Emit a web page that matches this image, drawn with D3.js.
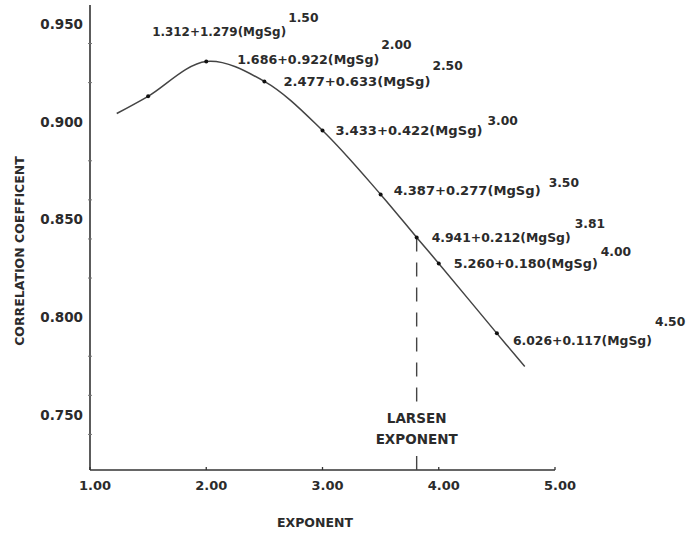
<!DOCTYPE html>
<html>
<head>
<meta charset="utf-8">
<script src="https://cdn.jsdelivr.net/npm/d3@7"></script>
<style>
  html, body { margin: 0; padding: 0; background: #fff; }
  svg { display: block; }
  text { font-family: "DejaVu Sans", sans-serif; font-weight: bold; fill: #2b2b2b; }
</style>
</head>
<body>
<svg id="chart" width="693" height="533"></svg>
<script>
// ---- data ----
const exponents   = [1.50, 2.00, 2.50, 3.00, 3.50, 3.81, 4.00, 4.50];
const correlation = [0.913, 0.9308, 0.9206, 0.8955, 0.8628, 0.8408, 0.8275, 0.7917];
const intercepts  = ["1.312", "1.686", "2.477", "3.433", "4.387", "4.941", "5.260", "6.026"];
const slopes      = ["1.279", "0.922", "0.633", "0.422", "0.277", "0.212", "0.180", "0.117"];
const expLabels   = ["1.50", "2.00", "2.50", "3.00", "3.50", "3.81", "4.00", "4.50"];
// fitted curve extends slightly beyond the measured points
const curveStart  = [1.23, 0.9042];
const curveEnd    = [4.74, 0.7748];
const larsenExp   = 3.81;
const xTicks      = [1, 2, 3, 4, 5];
const xTickLabels = ["1.00", "2.00", "3.00", "4.00", "5.00"];
const yTicks      = [0.75, 0.80, 0.85, 0.90, 0.95];
const yTickLabels = ["0.750", "0.800", "0.850", "0.900", "0.950"];
const yMinorTicks = [0.74, 0.76, 0.78, 0.82, 0.84, 0.86, 0.88, 0.92, 0.94];

// ---- layout: per label [text dx, text dy, text width, superscript dx, superscript dy] from its point ----
const labelLayout = [
  [4, -65, 134, 140, -79], [31, -2, 142, 175, -17], [19, 0, 147, 168, -16], [13, 0, 147, 165, -10],
  [13, -4, 147, 168, -12], [15, 0, 139, 158, -14], [15, 0, 144, 162, -12], [16, 7, 139, 158, -12]
];

const svg = d3.select("#chart");
const x = d3.scaleLinear().domain([1, 5]).range([90, 555]);
const y = d3.scaleLinear().domain([0.7218, 0.9597]).range([470, 5]);
const ink = "#333";

// axes lines
svg.append("line").attr("x1", x(1)).attr("x2", x(1)).attr("y1", y(0.9597)).attr("y2", y(0.7218))
  .attr("stroke", ink).attr("stroke-width", 1.6);
svg.append("line").attr("x1", x(1)).attr("x2", x(5)).attr("y1", y(0.7218)).attr("y2", y(0.7218))
  .attr("stroke", ink).attr("stroke-width", 1.6);

// y ticks (minor marks)
svg.selectAll(".ymin").data(yMinorTicks).enter().append("line")
  .attr("x1", x(1) - 2).attr("x2", x(1) + 2)
  .attr("y1", d => y(d)).attr("y2", d => y(d))
  .attr("stroke", "#777").attr("stroke-width", 1);
// y tick labels
svg.selectAll(".ylab").data(yTicks).enter().append("text")
  .attr("x", 83).attr("y", d => y(d) + 5)
  .attr("text-anchor", "end").attr("font-size", 13.5)
  .text((d, i) => yTickLabels[i]);

// x ticks
svg.selectAll(".xt").data(xTicks).enter().append("line")
  .attr("x1", d => x(d)).attr("x2", d => x(d))
  .attr("y1", y(0.7218) - 3).attr("y2", y(0.7218))
  .attr("stroke", ink).attr("stroke-width", 1.3);
svg.selectAll(".xlab").data(xTicks).enter().append("text")
  .attr("x", d => x(d) + 5).attr("y", 490)
  .attr("text-anchor", "middle").attr("font-size", 13)
  .text((d, i) => xTickLabels[i]);

// axis titles
svg.append("text").attr("x", 315).attr("y", 527).attr("text-anchor", "middle")
  .attr("font-size", 12.5).text("EXPONENT");
svg.append("text").attr("transform", "translate(24,251) rotate(-90)")
  .attr("text-anchor", "middle").attr("font-size", 12.5).text("CORRELATION COEFFICENT");

// Larsen exponent dashed line
const lx = x(larsenExp);
const ly = y(correlation[exponents.indexOf(larsenExp)]);
svg.append("line").attr("x1", lx).attr("x2", lx).attr("y1", ly).attr("y2", 404)
  .attr("stroke", "#444").attr("stroke-width", 1.4).attr("stroke-dasharray", "14,11");
svg.append("line").attr("x1", lx).attr("x2", lx).attr("y1", 456).attr("y2", y(0.7218))
  .attr("stroke", "#444").attr("stroke-width", 1.4);
svg.append("text").attr("x", lx).attr("y", 423).attr("text-anchor", "middle")
  .attr("font-size", 13.5).text("LARSEN");
svg.append("text").attr("x", lx).attr("y", 444).attr("text-anchor", "middle")
  .attr("font-size", 13.5).text("EXPONENT");

// curve
const curvePts = [curveStart].concat(exponents.map((e, i) => [e, correlation[i]]), [curveEnd]);
const line = d3.line().x(d => x(d[0])).y(d => y(d[1])).curve(d3.curveCatmullRom.alpha(0.5));
svg.append("path").datum(curvePts).attr("d", line)
  .attr("fill", "none").attr("stroke", "#444").attr("stroke-width", 1.5);

// points
svg.selectAll(".pt").data(exponents).enter().append("circle")
  .attr("cx", d => x(d)).attr("cy", (d, i) => y(correlation[i]))
  .attr("r", 2).attr("fill", "#111");

// equation labels
exponents.forEach((e, i) => {
  const [dx, dy, w, sdx, sdy] = labelLayout[i];
  const px = x(e), py = y(correlation[i]);
  svg.append("text")
    .attr("x", px + dx).attr("y", py + dy + 4.5)
    .attr("font-size", 13)
    .attr("textLength", w).attr("lengthAdjust", "spacingAndGlyphs")
    .text(intercepts[i] + "+" + slopes[i] + "(MgSg)");
  svg.append("text")
    .attr("x", px + sdx).attr("y", py + sdy + 4.5)
    .attr("font-size", 12.3)
    .text(expLabels[i]);
});
</script>
</body>
</html>
